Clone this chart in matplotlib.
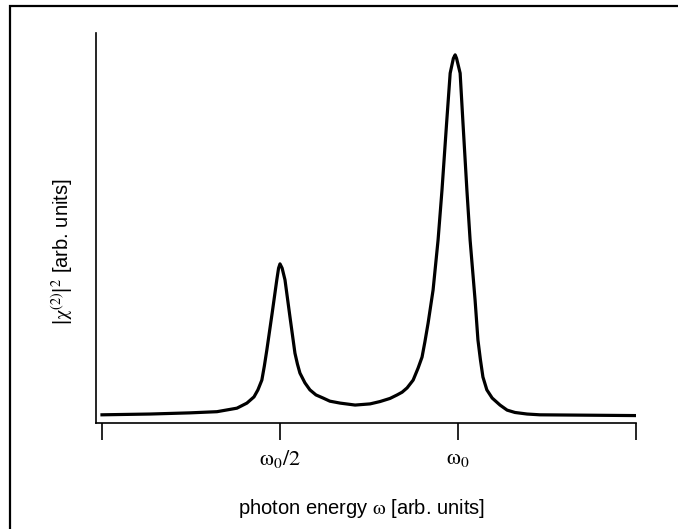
import matplotlib
matplotlib.use("Agg")
import matplotlib.pyplot as plt
from matplotlib.patches import Rectangle

plt.rcParams["font.family"] = ["Liberation Sans", "DejaVu Sans"]
plt.rcParams["mathtext.fontset"] = "stix"

# photon energy in units of omega_0, |chi(2)|^2 in arbitrary units
omega = [0.000, 0.135, 0.247, 0.323, 0.379, 0.407, 0.427, 0.438, 0.449, 0.456,
         0.463, 0.478, 0.491, 0.496, 0.500, 0.506, 0.514, 0.528, 0.542, 0.549,
         0.556, 0.570, 0.584, 0.601, 0.621, 0.640, 0.669, 0.711, 0.753, 0.781,
         0.809, 0.829, 0.843, 0.857, 0.874, 0.888, 0.899, 0.907, 0.916, 0.930,
         0.944, 0.955, 0.968, 0.978, 0.987, 0.992, 0.996, 1.006, 1.014, 1.025,
         1.034, 1.048, 1.056, 1.063, 1.070, 1.081, 1.096, 1.118, 1.138, 1.160,
         1.194, 1.230, 1.503]
chi2 = [0.021, 0.023, 0.026, 0.029, 0.038, 0.051, 0.067, 0.085, 0.110, 0.146,
        0.187, 0.282, 0.367, 0.397, 0.408, 0.397, 0.367, 0.272, 0.179, 0.151,
        0.128, 0.103, 0.085, 0.072, 0.064, 0.056, 0.051, 0.046, 0.049, 0.055,
        0.063, 0.072, 0.079, 0.090, 0.110, 0.141, 0.169, 0.208, 0.256, 0.341,
        0.469, 0.597, 0.769, 0.897, 0.935, 0.944, 0.935, 0.897, 0.769, 0.597,
        0.469, 0.315, 0.213, 0.162, 0.118, 0.085, 0.064, 0.046, 0.033, 0.027,
        0.023, 0.021, 0.019]

tick_pos = [0.0, 0.5, 1.0, 1.5]
tick_lab = ["", r"$\mathrm{\omega}_0/2$", r"$\mathrm{\omega}_0$", ""]

fig = plt.figure(figsize=(6.78, 5.29), dpi=100)
ax = fig.add_axes([96 / 678, 106 / 529, 540 / 678, 390 / 529])

ax.plot(omega, chi2, color="black", lw=2.3, solid_joinstyle="round")

ax.set_xlim(-6 / 356, 1.5)
ax.set_ylim(0, 1)

ax.spines["top"].set_visible(False)
ax.spines["right"].set_visible(False)
ax.spines["left"].set_linewidth(1.2)
ax.spines["bottom"].set_linewidth(1.2)

ax.set_yticks([])
ax.set_xticks(tick_pos)
ax.set_xticklabels(tick_lab, fontsize=16)
ax.tick_params(axis="x", length=12, width=1.2, pad=6)

ax.set_xlabel(r"photon energy $\mathrm{\omega}$ [arb. units]", fontsize=14.5)
ax.xaxis.label.set_va("center")
ax.xaxis.set_label_coords(0.491, -0.218)

ax.set_ylabel("|" + r"$\mathrm{\chi}^{(2)}$" + "|" + r"$^{2}$" + " [arb. units]",
              fontsize=14.5)
ax.yaxis.label.set_va("center")
ax.yaxis.set_label_coords(-0.063, 0.44)

# outer frame, cut off at the right and bottom edges
fig.add_artist(Rectangle((9.5 / 678, -0.5), 2, 0.5 + (1 - 5.5 / 529),
                         transform=fig.transFigure, fill=False,
                         edgecolor="black", lw=1.6))

fig.savefig("out.png", dpi=100)
